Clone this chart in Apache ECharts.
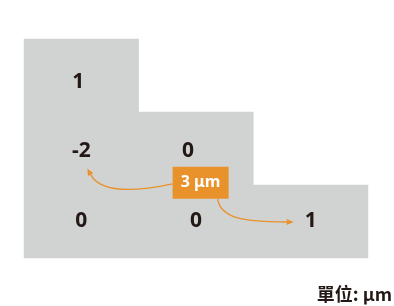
<!DOCTYPE html>
<html>
<head>
<meta charset="utf-8">
<script src="https://cdn.jsdelivr.net/npm/echarts@6/dist/echarts.min.js"></script>
<style>
html, body { margin: 0; padding: 0; background: #fff; }
#chart { width: 394px; height: 306px; }
</style>
</head>
<body>
<div id="chart"></div>
<script>
var columns = ['c1', 'c2', 'c3'];
var rows = ['r1', 'r2', 'r3'];
// [column, row, value] - only the cells of the stepped shape
var cellValues = [
    [0, 0, 1],
    [0, 1, -2],
    [1, 1, 0],
    [0, 2, 0],
    [1, 2, 0],
    [2, 2, 1]
];
var shiftText = '3 μm';
var unitText = '單位: μm';
var titleText = '各區域厚度高低差';

// small nudges so the numbers sit where they do in the drawing
var labelNudge = { '0,0': [-3, 7], '0,1': [0, 3], '1,1': [-8, 3] };

var gray = '#D1D3D2';
var orange = '#E9912B';
var ink = '#231815';

var W = 394, H = 306;
var grid = { left: 24, right: 26, top: 39, bottom: 48 };

var chart = echarts.init(document.getElementById('chart'));

var heatData = cellValues.map(function (d) {
    var item = { value: d };
    var n = labelNudge[d[0] + ',' + d[1]];
    if (n) item.label = { offset: n };
    return item;
});

chart.setOption({
    animation: false,
    grid: grid,
    xAxis: { type: 'category', data: columns, show: false },
    yAxis: { type: 'category', data: rows, inverse: true, show: false },
    visualMap: {
        show: false, dimension: 2, min: -2, max: 1,
        inRange: { color: [gray, gray] }
    },
    series: [{
        type: 'heatmap',
        data: heatData,
        itemStyle: { borderWidth: 0 },
        label: {
            show: true,
            formatter: function (p) { return String(p.value[2]); },
            fontFamily: 'Noto Sans',
            fontWeight: 'bold',
            fontSize: 21,
            color: ink
        },
        emphasis: { disabled: true }
    }]
});

// cell centre in pixels, from the grid layout
var cw = (W - grid.left - grid.right) / columns.length;
var ch = (H - grid.top - grid.bottom) / rows.length;
function px(i, j) {
    return [grid.left + (i + 0.5) * cw, grid.top + (j + 0.5) * ch];
}

function arrow(p0, p1, p2, p3) {
    var dx = p3[0] - p2[0], dy = p3[1] - p2[1];
    var len = Math.sqrt(dx * dx + dy * dy);
    dx /= len; dy /= len;
    var bx = p3[0] - dx * 7, by = p3[1] - dy * 7;
    var nx = -dy * 3, ny = dx * 3;
    return [
        {
            type: 'bezierCurve', z: 50,
            shape: { x1: p0[0], y1: p0[1], cpx1: p1[0], cpy1: p1[1], cpx2: p2[0], cpy2: p2[1], x2: bx, y2: by },
            style: { stroke: orange, lineWidth: 1.3, fill: null }
        },
        {
            type: 'polygon', z: 50,
            shape: { points: [[p3[0], p3[1]], [bx + nx, by + ny], [bx - nx, by - ny]] },
            style: { fill: orange }
        }
    ];
}

var c11 = px(1, 1), c01 = px(0, 1), c22 = px(2, 2);
var bx = c11[0] + 0.04 * cw, by = c11[1] + 0.47 * ch;
var boxW = 56, boxH = 32;

var a1s = [bx - boxW / 2, by + 1];
var a1e = [c01[0] + 6, c01[1] + 20];
var a2s = [bx + 17, by + boxH / 2];
var a2e = [c22[0] - 17, c22[1] + 0.5];

var graphics = []
    .concat(arrow(a1s, [a1s[0] - 42, a1s[1] + 9], [a1e[0] + 13, a1e[1] + 24], a1e))
    .concat(arrow(a2s, [a2s[0] + 3, a2s[1] + 20], [a2e[0] - 48, a2e[1]], a2e))
    .concat([
        {
            type: 'rect', z: 60,
            shape: { x: bx - boxW / 2, y: by - boxH / 2, width: boxW, height: boxH },
            style: { fill: orange }
        },
        {
            type: 'text', z: 61,
            x: bx, y: by,
            style: {
                text: shiftText, fill: '#fff', align: 'center', verticalAlign: 'middle',
                fontFamily: 'Noto Sans', fontWeight: 'bold', fontSize: 16
            }
        },
        {
            type: 'text', z: 60,
            right: 2, top: 285,
            style: {
                text: unitText, fill: ink,
                fontFamily: 'Noto Sans CJK TC', fontWeight: 'bold', fontSize: 18
            }
        },
        {
            type: 'text', z: 60,
            left: 27, top: -17,
            style: {
                text: titleText, fill: '#3e3a39',
                fontFamily: 'Noto Sans CJK TC', fontWeight: 'bold', fontSize: 17
            }
        }
    ]);

chart.setOption({ graphic: graphics });
</script>
</body>
</html>
